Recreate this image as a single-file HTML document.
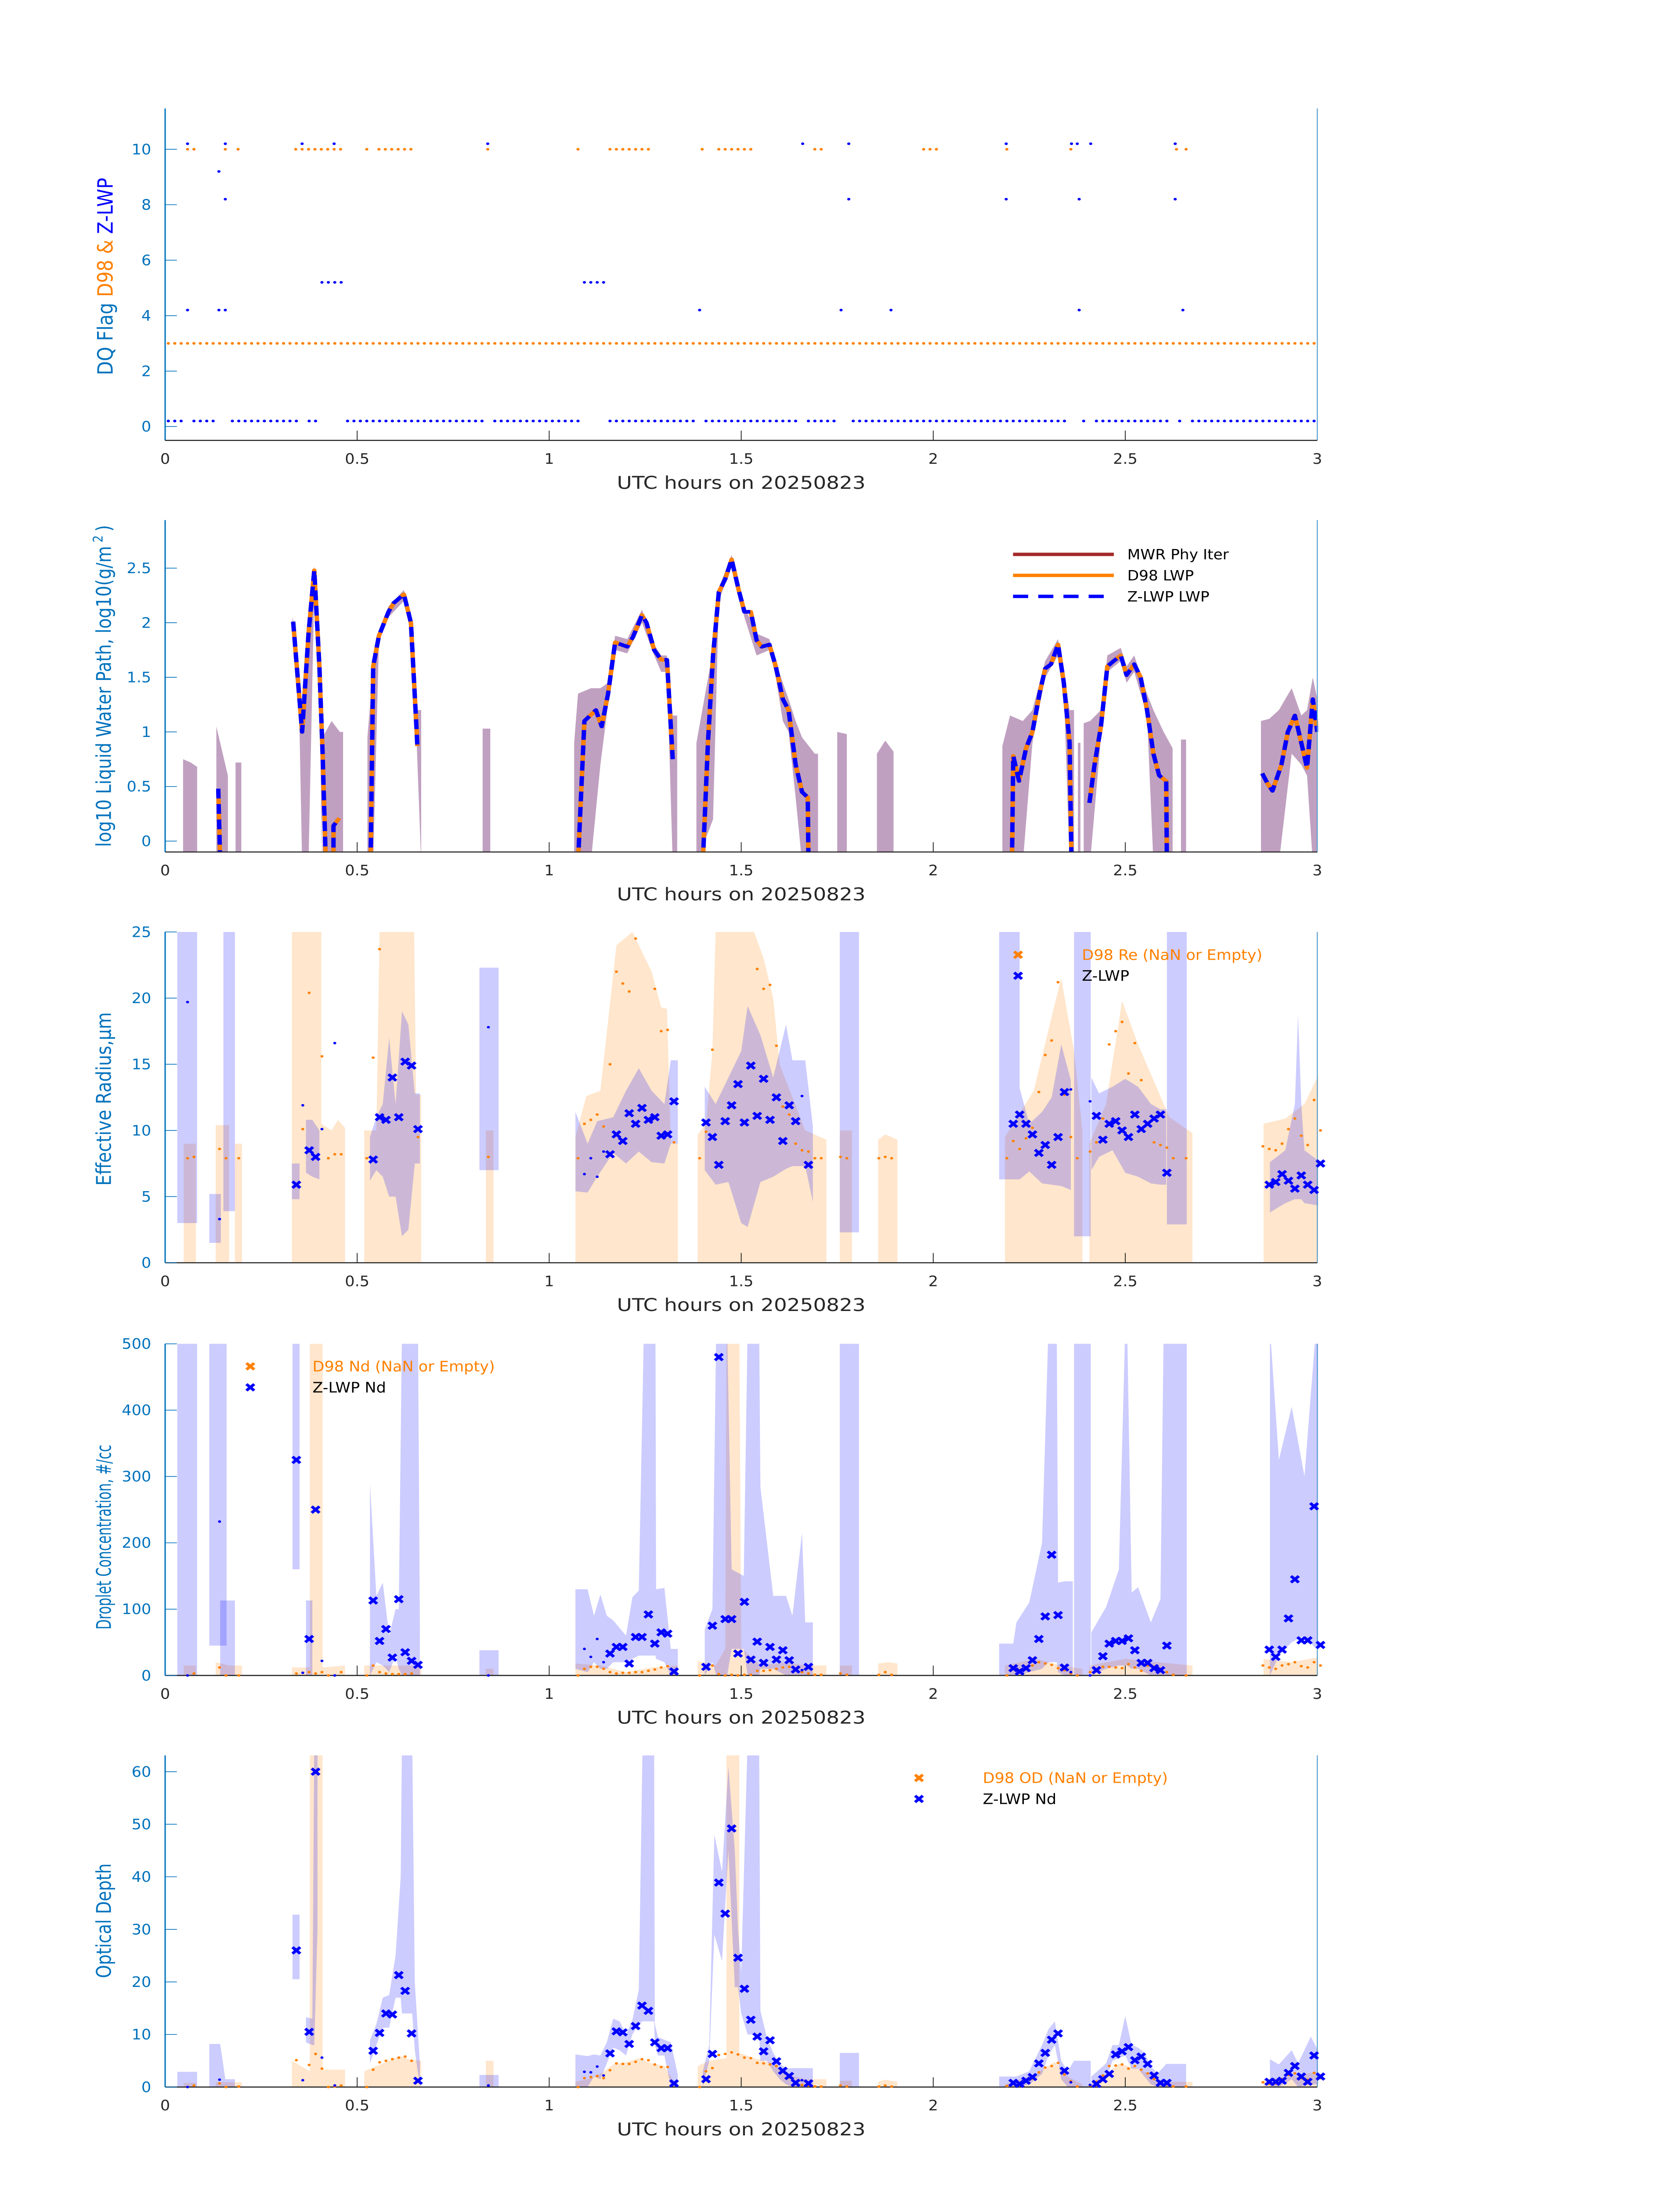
<!DOCTYPE html>
<html><head><meta charset="utf-8"><title>DQ / LWP / Re / Nd / OD</title>
<style>
html,body{margin:0;padding:0;background:#fff;width:100vw;height:100vh;overflow:hidden}
svg{display:block;position:fixed;left:0;top:0;width:100vw;height:100vh}
</style></head>
<body>
<svg id="fig" xmlns="http://www.w3.org/2000/svg" viewBox="0 0 1000 1568.63" preserveAspectRatio="none">
<rect x="0" y="0" width="1000" height="1568.63" fill="#ffffff"/>
<defs id="defs"></defs>
</svg>
<script>
// ---------- Panel 1: DQ flags (time in minutes after 00 UTC) ----------
const d98FlagT=[3.5,4.5,9.4,11.4,20.4,21.4,22.4,23.4,24.4,25.4,26.4,27.4,31.5,33.4,34.4,35.4,36.4,37.4,38.4,50.4,64.5,69.5,70.5,71.5,72.5,73.5,74.5,75.5,83.9,86.5,87.5,88.5,89.5,90.5,91.5,101.5,102.5,118.5,119.5,120.5,131.5,141.5,158,159.5];
const d98FlagV=[10,10,10,10,10,10,10,10,10,10,10,10,10,10,10,10,10,10,10,10,10,10,10,10,10,10,10,10,10,10,10,10,10,10,10,10,10,10,10,10,10,10,10,10];
const d98FlagRuns=[[0.5,179.5,3]];
const zFlagT=[3.5,9.4,21.4,26.4,50.4,99.6,106.8,131.4,141.6,142.5,144.6,157.8, 8.4, 9.4,106.8,131.4,142.8,157.8, 24.5,25.5,26.5,27.5,65.5,66.5,67.5,68.5, 3.5,8.4,9.4,83.5,105.6,113.4,142.8,159];
const zFlagV=[10.2,10.2,10.2,10.2,10.2,10.2,10.2,10.2,10.2,10.2,10.2,10.2, 9.2, 8.2,8.2,8.2,8.2,8.2, 5.2,5.2,5.2,5.2,5.2,5.2,5.2,5.2, 4.2,4.2,4.2,4.2,4.2,4.2,4.2,4.2];
const zFlagRuns=[[0.5,2.5,0.2],[4.5,7.5,0.2],[10.5,20.5,0.2],[22.5,23.5,0.2],[28.5,49.5,0.2],[51.5,64.5,0.2],[69.5,82.5,0.2],[84.5,98.5,0.2],[100.5,104.5,0.2],[107.5,113.5,0.2],[114.5,131.5,0.2],[132.5,140.5,0.2],[143.5,143.5,0.2],[145.5,156.5,0.2],[158.5,158.5,0.2],[160.5,179.5,0.2]];

// ---------- Panel 2: LWP (log10) ----------
const lwpSegT=[[8.3,8.6],[20.0,21.4,22.4,23.3,24.1,24.6,25.1],[26.3,26.3,27.2],[32.1,32.5,33.4,34.9,35.7,37.3,38.4,39.3,39.4],
 [64.5,65.5,67.3,68.2,69.2,70.3,72.2,73.1,74.5,75.2,76.4,77.5,78.4,79.3],
 [84.0,84.8,85.6,86.5,87.5,88.5,89.6,90.5,91.5,92.4,93.2,94.4,95.4,96.5,97.4,98.5,99.5,100.4,100.5],
 [132.3,132.5,133.4,134.5,135.5,136.6,137.5,138.4,139.5,140.4,141.3,141.6],
 [144.4,145.2,146.2,147.2,148.2,149.3,150.2,151.4,152.4,153.4,154.4,155.3,156.4,156.5],
 [171.4,172.3,173.0,174.4,175.4,176.5,177.5,178.4,179.3,180]];
const lwpSegV=[[0.48,-0.2],[2.01,1.0,1.9,2.48,1.6,0.8,-0.2],[-0.2,0.14,0.21],[-0.2,1.6,1.88,2.1,2.18,2.26,2.0,1.0,0.87],
 [-0.2,1.1,1.2,1.05,1.35,1.82,1.78,1.87,2.07,2.0,1.75,1.66,1.66,0.75],
 [-0.2,0.9,1.7,2.28,2.4,2.58,2.3,2.1,2.1,1.84,1.78,1.8,1.6,1.3,1.2,0.7,0.45,0.4,-0.2],
 [-0.2,0.78,0.55,0.85,1.0,1.35,1.58,1.62,1.8,1.45,0.9,-0.2],
 [0.35,0.7,1.05,1.6,1.65,1.7,1.52,1.62,1.5,1.2,0.8,0.6,0.55,-0.2],
 [0.62,0.52,0.46,0.7,1.0,1.15,0.9,0.67,1.3,1.0]];
const lwpBands=[
 [[2.8,-0.2,0.75],[4,-0.2,0.72],[5,-0.2,0.68]],
 [[8,-0.2,1.05],[9,-0.2,0.8],[9.8,-0.2,0.6]],
 [[11,-0.2,0.72],[11.9,-0.2,0.72]],
 [[19.9,1.95,2.05],[20.5,1.5,1.9],[21,1.0,1.35],[21.4,-0.2,1.05],[22.4,-0.2,1.95],[23.3,2.3,2.52],[24.1,1.5,1.7],[24.5,-0.2,1.0]],
 [[24.6,-0.2,0.95],[26,-0.2,1.1],[27.3,-0.2,1.0],[27.8,-0.2,1.0]],
 [[31.6,-0.2,0.95],[32.5,-0.2,1.6],[33.4,1.83,1.92],[34.9,2.05,2.15],[37.3,2.2,2.3],[38.4,1.9,2.05],[39.3,0.9,1.2],[40,-0.2,1.2]],
 [[49.6,-0.2,1.03],[50.8,-0.2,1.03]],
 [[63.9,-0.2,0.9],[64.5,-0.2,1.35],[66.5,-0.2,1.4],[68,0.7,1.4],[69.2,1.25,1.45],[70.3,1.75,1.88],[72.2,1.72,1.85],[74.5,2.0,2.12],[76.4,1.7,1.8],[77.5,1.55,1.7],[78.4,1.55,1.7],[79.3,-0.2,1.15],[80,-0.2,1.15]],
 [[83,-0.2,0.9],[85.6,0.2,1.75],[86.5,2.2,2.32],[88.5,2.52,2.62],[90.5,2.05,2.15],[92.4,1.7,1.9],[94.4,1.75,1.85],[95.4,1.5,1.65],[96.5,1.1,1.45],[97.4,1.0,1.3],[98.5,0.4,1.1],[99.5,-0.2,0.95],[101.5,-0.2,0.8],[102,-0.2,0.8]],
 [[105,-0.2,1.0],[106.5,-0.2,0.98]],
 [[111.2,-0.2,0.8],[112.5,-0.2,0.92],[113.8,-0.2,0.82]],
 [[130.8,-0.2,0.87],[132,-0.2,1.15],[134,-0.2,1.1],[135.5,0.9,1.2],[137.5,1.5,1.65],[139.5,1.7,1.85],[140.4,1.4,1.55],[141.3,-0.2,1.2],[142,-0.2,1.2]],
 [[142.6,-0.2,0.9],[143,-0.2,0.9]],
 [[143.5,-0.2,1.08],[144.5,-0.2,1.1],[146.2,0.95,1.2],[147.2,1.55,1.7],[149.3,1.65,1.77],[150.2,1.45,1.6],[151.4,1.55,1.7],[153.4,1.15,1.35],[154.4,-0.2,1.2],[156,-0.2,1.0],[157.4,-0.2,0.85]],
 [[158.7,-0.2,0.93],[159.5,-0.2,0.93]],
 [[171.2,-0.2,1.1],[172.5,-0.2,1.12],[174,-0.2,1.2],[176,0.8,1.4],[177.5,0.7,1.15],[178.4,0.6,1.2],[179.3,-0.2,1.5],[180,-0.2,1.3]]];

// ---------- Z-LWP retrievals (shared times) ----------
const zT=[20.5,22.5,23.5,32.5,33.5,34.5,35.5,36.5,37.5,38.5,39.5,69.5,70.5,71.5,72.5,73.5,74.5,75.5,76.5,77.5,78.5,79.5,84.5,85.5,86.5,87.5,88.5,89.5,90.5,91.5,92.5,93.5,94.5,95.5,96.5,97.5,98.5,100.5,132.5,133.5,134.5,135.5,136.5,137.5,138.5,139.5,140.5,145.5,146.5,147.5,148.5,149.5,150.5,151.5,152.5,153.5,154.5,155.5,156.5,172.5,173.5,174.5,175.5,176.5,177.5,178.5,179.5,180.5];
const zRe=[5.9,8.5,8.0,7.8,11,10.8,14,11,15.2,14.9,10.1,8.2,9.7,9.2,11.3,10.5,11.7,10.8,11,9.6,9.7,12.2,10.6,9.5,7.4,10.7,11.9,13.5,10.6,14.9,11.1,13.9,10.8,12.5,9.2,11.9,10.7,7.4,10.5,11.2,10.5,9.7,8.3,8.9,7.4,9.5,12.9,11.1,9.3,10.5,10.7,10.0,9.5,11.2,10.1,10.5,10.9,11.2,6.8,5.9,6.1,6.7,6.2,5.6,6.6,5.9,5.5,7.5];
const zNd=[325,55,250,113,52,70,27,115,35,22,16,33,43,43,18,58,58,92,48,65,63,6,13,75,480,85,85,33,111,24,51,19,43,24,38,23,9,13,11,6,11,23,55,89,182,91,12,8,29,48,52,52,56,38,19,19,11,8,45,39,28,39,86,145,53,53,255,46];
const zOD=[26,10.5,60,6.9,10.3,14,13.8,21.3,18.3,10.2,1.2,6.4,10.6,10.4,8.2,11.6,15.5,14.5,8.5,7.4,7.4,0.7,1.5,6.3,38.9,33,49.2,24.6,18.7,12.8,9.6,6.8,8.9,4.9,3.1,2.1,0.8,0.7,0.8,0.6,1.2,1.9,4.5,6.5,9.0,10.2,3.1,0.6,1.5,2.5,6.2,6.8,7.6,5.1,5.8,4.4,2.2,0.8,0.8,1.0,1.0,1.2,2.7,4.0,2.0,1.0,6.0,2.0];
const zDotT=[3.5,8.5,21.5,24.5,26.5,50.5,65.5,66.5,67.5,68.5,99.5,141.5,144.5];
const zDotRe=[19.7,3.3,11.9,10.1,16.6,17.8,6.7,7.9,6.5,8.4,12.6,13.1,12.2];
const zDotNd=[0,232,4,22,0,0,40,28,55,20,8,5,0];
const zDotOD=[0,1.4,1.3,5.6,0.3,0.3,2.9,2.8,3.9,2.2,1.3,0.9,0.4];

// ---------- D98 retrievals ----------
const d98ReT=[3.5,4.5,8.5,9.5,11.5,21.5,22.5,24.5,25.5,26.5,27.5,31.5,32.5,33.5,39.5,50.5,64.5,65.5,66.5,67.5,68.5,69.5,70.5,71.5,72.5,73.5,76.5,77.5,78.5,79.5,83.5,84.5,85.5,92.5,93.5,94.5,95.5,96.5,97.5,98.5,99.5,100.5,101.5,102.5,105.5,106.5,111.5,112.5,113.5,131.5,132.5,133.5,134.5,135.5,136.5,137.5,138.5,139.5,140.5,141.5,142.5,144.5,145.5,146.5,147.5,148.5,149.5,150.5,151.5,152.5,153.5,154.5,155.5,156.5,157.5,159.5,171.5,172.5,173.5,174.5,175.5,176.5,177.5,178.5,179.5,180.5];
const d98ReV=[7.9,8.0,8.6,7.9,7.9,10.1,20.4,15.6,7.9,8.2,8.2,7.9,15.5,23.7,9.5,8.0,7.9,10.5,10.8,11.2,10.3,15.0,22,21.1,20.5,24.5,20.7,17.5,17.6,9.1,7.9,9.9,16.1,22.2,20.7,21,16.4,11.8,11.2,9,8.5,8.4,7.9,7.9,8.0,7.9,7.9,8.0,7.9,7.9,9.2,8.6,9.4,10.2,12.9,15.7,16.8,21.2,12.7,9.5,7.9,8.4,9.1,10.9,16.5,17.5,18.2,14.3,16.6,13.8,10.5,9.1,8.9,8.7,7.9,7.9,8.8,8.6,8.5,9,10.1,10.9,9.6,8.9,12.3,10];
const d98T=[3.5,4.5,8.5,9.5,11.5,20.5,22.5,23.5,24.5,25.5,26.5,27.5,31.5,32.5,33.5,34.5,35.5,36.5,37.5,38.5,64.5,65.5,66.5,67.5,68.5,69.5,70.5,71.5,72.5,73.5,74.5,75.5,76.5,77.5,78.5,83.5,84.5,85.5,86.5,87.5,88.5,89.5,90.5,91.5,92.5,93.5,94.5,95.5,96.5,97.5,98.5,99.5,100.5,101.5,102.5,105.5,106.5,111.5,112.5,113.5,131.5,132.5,133.5,134.5,135.5,136.5,137.5,138.5,139.5,140.5,141.5,142.5,144.5,145.5,146.5,147.5,148.5,149.5,150.5,151.5,152.5,153.5,154.5,155.5,156.5,157.5,159.5,171.5,172.5,173.5,174.5,175.5,176.5,177.5,178.5,179.5,180.5];
const d98Nd=[0,3,12,0,0,3,5,3,5,0,0,5,0,15,5,3,2,2,2,3,0,10,13,13,10,5,3,4,4,5,5,7,9,12,14,0,14,15,2,0,1,0,1,1,7,7,8,10,12,13,10,5,3,1,1,3,1,1,5,1,0,10,8,12,15,20,18,16,11,8,3,0,5,8,13,13,12,11,17,12,7,15,13,10,5,1,0,15,12,10,15,17,20,14,12,20,15];
const d98OD=[0,0.3,0.7,0,0.1,5.1,4.2,6.3,3.5,0,0.1,0.3,0,3.3,4.7,5.0,5.3,5.6,5.8,5.0,0,1.7,1.9,2.1,1.7,3.2,4.5,4.4,4.4,4.8,5.3,5.1,4.3,3.8,3.8,0,3.0,3.6,6.1,6.3,6.6,6.2,5.6,5.5,4.6,4.5,4.3,4.0,3.0,1.8,1.0,0.4,0.3,0.1,0.1,0.3,0.1,0.1,0.3,0.1,0.2,0.6,0.8,1.3,1.6,2.8,3.7,4.0,4.6,2.4,1.1,0.1,0.3,1.0,2.2,4.0,4.1,4.3,3.5,4.0,3.3,2.6,1.5,1.0,0.5,0.1,0.1,0.9,0.6,0.7,1.5,2.3,2.6,1.7,1.4,2.7,1.7];

// ---------- Uncertainty bands [minute, lo, hi] ----------
const reOrangeBands=[
 [[2.9,0,9],[4.8,0,9]],[[7.9,0,10.4],[10,0,10.4]],[[10.9,0,9],[12,0,9]],
 [[19.8,0,25],[24.4,0,25],[24.4,0,10.5],[26,0,10],[27,0,10.8],[28.1,0,10.2]],
 [[31.1,0,10],[33,0,10],[33.5,0,25],[38.9,0,25],[39.2,0,12.7],[40,0,12.7]],
 [[50.1,0,10],[51.3,0,10]],
 [[64.1,0,9.5],[65.8,0,12.6],[68,0,13],[70.5,0,24],[73,0,25],[76,0,22],[77.5,0,19.3],[78.4,0,19.2],[79,0,9],[80.1,0,9]],
 [[83.2,0,9.7],[84.5,0,10.5],[85.5,0,16],[86,0,25],[92,0,25],[93.5,0,23],[95,0,20],[96,0,15],[100,0,10],[103.3,0,9.3]],
 [[105.4,0,10],[107.3,0,10]],[[111.4,0,9.3],[112.5,0,9.7],[114.4,0,9.3]],
 [[131.2,0,9.5],[135.7,0,13],[138.7,0,19],[140,0,21.5],[142,0,16],[143.3,0,10]],
 [[144.4,0,9],[147,0,12],[149.5,0,19.8],[152,0,16.5],[156.9,0,11],[160.5,0,9.8]],
 [[171.6,0,10.5],[175,0,10.9],[178,0,12],[180.5,0,14.5]]];
const reBlueBands=[
 [[1.9,3,25],[5,3,25]],[[6.9,1.5,5.2],[8.7,1.5,5.2]],[[9.1,3.9,25],[10.9,3.9,25]],[[19.8,4.8,7.5],[21,4.8,7.5]],
 [[22,6.8,10.8],[23,6.5,10.8],[24.1,6.3,10]],
 [[32,6.2,9.5],[33,7,11],[34,6.5,12],[35,5,17],[36,5,12],[37,2,19],[38,2.5,18],[39,7.5,12.8],[39.8,7.5,12.8]],
 [[49.1,7,22.3],[52.1,7,22.3]],
 [[64.1,5.4,11.4],[66,5.3,9],[67.5,6.5,10.7],[70,8.3,11],[72,7.5,13],[74,8.4,14.7],[76,7.6,13],[78,7.5,12],[79,9,15.3],[80.1,9,15.3]],
 [[84.3,7,13.3],[86,5.9,12],[88,6.1,14],[90,3,16],[91,2.7,19.4],[93,6.1,17.2],[95,6.5,14],[97,7.1,18],[98,7.3,15.3],[100,7.3,15.3],[101.2,4.6,10.3]],
 [[105.4,2.3,25],[108.4,2.3,25]],
 [[130.3,6.3,25],[133.5,6.3,25],[133.5,6.3,13.2],[135,6.9,10.5],[137,6,11.4],[138.5,5.9,12.5],[140,5.8,16.5],[141.5,5.5,13.8]],
 [[142,2,25],[144.6,2,25]],
 [[144.7,7,14],[145.9,8,12.8],[148,8.5,13.3],[150,6.8,13.9],[152,6.5,13.3],[154,6,12],[155.5,5.9,11.6],[156.4,5.9,11.6]],
 [[156.5,2.9,25],[159.6,2.9,25]],
 [[172.6,3.8,7.6],[175,4.5,8.5],[176.5,4.8,12],[177,4.8,18.8],[177.5,4.8,12],[178,4.5,8.5],[180.5,4.3,7.6]]];
const ndOrangeBands=[
 [[2.9,0,15],[4.8,0,15]],[[7.9,0,20],[10,0,15],[12,0,15]],[[19.8,0,12],[22.6,0,12]],[[22.6,0,999],[24.6,0,999]],
 [[24.6,0,12],[28.1,0,15]],[[31.1,0,15],[40,0,15]],[[50.1,0,10],[51.3,0,10]],
 [[64.1,0,18],[68,0,15],[72,0,5],[76,0,12],[80.1,0,15]],
 [[83.2,0,22],[86,0,15],[87.5,0,40],[87.7,0,999],[89.7,0,999],[90,0,42],[93,0,15],[97,0,20],[100,0,15],[103.3,0,15]],
 [[105.4,0,15],[107.3,0,15]],[[111.4,0,18],[113,0,20],[114.4,0,18]],
 [[131.2,0,15],[136,0,25],[140,0,15],[143.3,0,10]],[[144.4,0,15],[150,0,25],[155,0,20],[160.5,0,15]],
 [[171.6,0,25],[176,0,20],[180.5,0,28]]];
const ndBlueBands=[
 [[1.9,0,999],[5,0,999]],[[6.9,45,999],[9.6,45,999]],[[8.6,0,113],[10.9,0,113]],[[19.9,160,999],[21,160,999]],
 [[22,0,113],[23,0,113]],
 [[32,0,290],[33,20,120],[34,15,140],[35,5,60],[36,30,100],[36.5,10,100],[37,0,999],[39.5,0,999],[39.8,0,70]],
 [[49.1,0,38],[52.1,0,38]],
 [[64.1,10,130],[66,5,130],[67,20,90],[68,10,122],[69,10,90],[70,20,83],[72,20,60],[73,25,118],[74,30,128],[74.8,30,999],[76.6,30,999],[76.7,25,130],[78,20,132],[79,0,40],[80.1,0,40]],
 [[84.3,0,70],[85.5,20,100],[86.1,0,999],[87.8,0,999],[88.5,40,160],[90.4,40,150],[91,0,999],[92.8,0,999],[93,10,284],[95,10,120],[97,0,120],[98,0,90],[99.5,0,215],[100,0,80],[101.2,0,80]],
 [[105.4,0,999],[108.4,0,999]],
 [[130.3,0,48],[132.5,0,48],[133,0,80],[135,5,110],[137,10,200],[138,20,999],[139.3,20,999],[139.5,5,140],[140.5,0,142],[141.8,0,142]],
 [[142,0,999],[144.6,0,999]],
 [[144.7,0,65],[147,10,103],[149,15,160],[150,15,999],[150.3,15,999],[151,10,125],[152,10,133],[154,0,80],[155.5,0,115],[156,0,999],[159.6,0,999]],
 [[172.6,0,999],[174,30,325],[176,50,405],[178,60,300],[179.8,40,999],[180.5,40,999]]];
const odOrangeBands=[
 [[2.9,0,0.8],[4.8,0,0.8]],[[7.9,0,0.9],[12,0,0.9]],[[19.8,0,5],[22.6,0,3]],[[22.6,0,99],[24.6,0,99]],[[24.6,0,3.3],[28.1,0,3.3]],
 [[31.1,0,3],[34,0,4.5],[36,0,5.5],[37,0,5.9],[38,0,5.3],[40,0,5]],[[50.1,0,5],[51.3,0,5]],
 [[64.1,0,1],[66,0,1.5],[68,0,2.5],[70,0,4.3],[72,0,4.7],[74,0,5.5],[76,0,4.5],[78,0,4],[79.5,0,1],[80.1,0,1]],
 [[83.2,0,4],[85,0,5],[87.7,0,5.5],[87.7,0,99],[89.7,0,99],[89.7,0,6.5],[92,0,5.5],[95,0,4.5],[97,0,2.5],[100,0,1.5],[103.3,0,1.5]],
 [[105.4,0,1.2],[107.3,0,1.2]],[[111.4,0,1],[112.5,0,1.4],[114.4,0,1]],
 [[131.2,0,0.5],[136,0,2.5],[139,0,4.8],[141,0,2],[143.3,0,0.5]],[[144.4,0,0.5],[147,0,2.5],[149,0,4.4],[152,0,3.5],[156,0,1],[160.5,0,1]],
 [[171.6,0,1.5],[176,0,2],[180.5,0,3]]];
const odBlueBands=[
 [[1.9,0,2.9],[5,0,2.9]],[[6.9,0,8.2],[8.6,0,8.2],[9.4,0,1.5],[10.9,0,1.5]],[[19.9,20.5,32.8],[21,20.5,32.8]],
 [[22,8.5,13.3],[23,8,13],[23.3,8,99],[23.8,30,99]],
 [[32,4.5,8.9],[33,8,12],[34,11.3,17],[35,11.3,17.5],[36,17,25],[36.8,17,40],[37,14,99],[38.6,14,99],[39,7,20],[39.8,0,4.5]],
 [[49.1,0,2.3],[52.1,0,2.3]],
 [[64.1,0,6.2],[66,0,5.9],[67,2,6.2],[68,1.5,6],[69,4.5,8.5],[70,7.5,13],[71,7,12.5],[72,6,10],[73,10,12.8],[74,12,18.5],[74.6,12.5,99],[76.4,12.5,99],[76.5,8,12],[77,6,9.5],[78,6,9],[79,0,8.5],[80.1,0,2.3]],
 [[84,0,3],[85,5,8],[85.8,29,48],[87,24,41],[88,45,61],[89,19,45],[89.5,19,30],[90,14,22],[91,10,99],[92.8,10,99],[93,5,14.5],[94,5,9.5],[95,3,6.5],[96,1.5,4.5],[97,0.5,3.5],[98,0,3.6],[101.2,0,3.6]],
 [[105.4,0,6.5],[108.4,0,6.5]],
 [[130.3,0,2],[133,0,2],[135,0.5,3],[137,2.5,8],[138,6,11],[139,8,12.5],[140,1.5,5],[141,0,3],[142,0,5],[144.6,0,5]],
 [[144.7,0,2],[147,1.5,4.5],[148,5,8],[149,5.5,8],[150,6,13.5],[151,3.5,8],[152,3.5,7.5],[153,2,6.5],[154,0.5,4],[155,0,2.5],[156.4,0,4.4],[159.5,0,4.4]],
 [[172.6,0,5.3],[174,0,4.3],[176,1.5,7],[177,0,4.5],[179,0.5,9.6],[180.5,0.5,6]]];

const xTickVals=[0,0.5,1,1.5,2,2.5,3];
const xTickLabels=['0','0.5','1','1.5','2','2.5','3'];

// ---------- rendering ----------
const NS='http://www.w3.org/2000/svg';
const svg=document.getElementById('fig');
const defs=document.getElementById('defs');
const X0=98.3,X1=784.1,TMAX=180;
function X(m){return X0+(m/TMAX)*(X1-X0);}
const panels=[
 {id:'dq',top:77.5,bot:314.6,ymin:-0.5,ymax:11.47,ticks:[0,2,4,6,8,10],labels:['0','2','4','6','8','10'],yc:197.5,yl:141},
 {id:'lwp',top:371.5,bot:608.6,ymin:-0.1,ymax:2.94,ticks:[0,0.5,1,1.5,2,2.5],labels:['0','0.5','1','1.5','2','2.5'],yc:490,yl:230},
 {id:'re',top:665.7,bot:902,ymin:0,ymax:25,ticks:[0,5,10,15,20,25],labels:['0','5','10','15','20','25'],yc:785,yl:124},
 {id:'nd',top:959.9,bot:1196.8,ymin:0,ymax:500,ticks:[0,100,200,300,400,500],labels:['0','100','200','300','400','500'],yc:1098,yl:132},
 {id:'od',top:1253.9,bot:1490.8,ymin:0,ymax:63.1,ticks:[0,10,20,30,40,50,60],labels:['0','10','20','30','40','50','60'],yc:1372,yl:82}];
function Y(p,v){return p.bot-(v-p.ymin)/(p.ymax-p.ymin)*(p.bot-p.top);}
function mk(tag,attrs,parent,name){
 const el=document.createElementNS(NS,tag);
 for(const k in attrs)el.setAttribute(k,attrs[k]);
 
 
 parent.appendChild(el);return el;}
const TF='"DejaVu Sans Condensed","DejaVu Sans","Liberation Sans",sans-serif';

panels.forEach(p=>{
 const cp=document.createElementNS(NS,'clipPath');cp.setAttribute('id','clip-'+p.id);
 const r=document.createElementNS(NS,'rect');
 r.setAttribute('x',X0);r.setAttribute('y',p.top);r.setAttribute('width',X1-X0+0.5);r.setAttribute('height',p.bot-p.top);
 cp.appendChild(r);defs.appendChild(cp);
 p.g=mk('g',{},svg,'panel-'+p.id);
 p.plot=mk('g',{'clip-path':'url(#clip-'+p.id+')'},p.g,'plot-area-'+p.id);
});

function band(p,arr,fill,op,name){
 let d='';
 const lo=p.ymin-(p.ymax-p.ymin)*0.05, hi=p.ymax+(p.ymax-p.ymin)*0.05;
 arr.forEach((q,i)=>{d+=(i?'L':'M')+X(q[0]).toFixed(2)+','+Y(p,Math.min(q[2],hi)).toFixed(2);});
 for(let i=arr.length-1;i>=0;i--){const q=arr[i];d+='L'+X(q[0]).toFixed(2)+','+Y(p,Math.max(q[1],lo)).toFixed(2);}
 d+='Z';
 mk('path',{d:d,fill:fill,'fill-opacity':op,stroke:'none'},p.plot,name);
}
function dot(p,parent,t,v,r,c,name){mk('circle',{cx:X(t).toFixed(2),cy:Y(p,v).toFixed(2),r:r,fill:c},parent,name);}
function xmark(parent,cx,cy,c,name){
 const s=2.3;
 mk('path',{d:`M${cx-s},${cy-s}L${cx+s},${cy+s}M${cx-s},${cy+s}L${cx+s},${cy-s}`,stroke:c,'stroke-width':1.9,fill:'none'},parent,name);
}

// axes
panels.forEach(p=>{
 const ax=mk('g',{},p.g,'axes-'+p.id);
 mk('line',{x1:X0,y1:p.top,x2:X0,y2:p.bot,stroke:'#0072bd','stroke-width':0.8},ax,'y-axis-line');
 mk('line',{x1:X1,y1:p.top,x2:X1,y2:p.bot,stroke:'#5a9fd0','stroke-width':0.6},ax,'right-axis-line');
 mk('line',{x1:X0,y1:p.bot,x2:X1,y2:p.bot,stroke:'#262626','stroke-width':0.8},ax,'x-axis-line');
 xTickVals.forEach((h,i)=>{
  const x=X(h*60);
  if(i>0&&i<xTickVals.length-1) mk('line',{x1:x,y1:p.bot,x2:x,y2:p.bot-7,stroke:'#262626','stroke-width':0.5},ax,'x-tick');
  const t=mk('text',{x:x,y:p.bot+16.7,'text-anchor':'middle','font-size':10.2,'font-family':TF,'font-stretch':'condensed',fill:'#262626'},ax,'x-tick-label');
  t.textContent=xTickLabels[i];
 });
 p.ticks.forEach((v,i)=>{
  const y=Y(p,v);
  mk('line',{x1:X0,y1:y,x2:X0+7,y2:y,stroke:'#0072bd','stroke-width':0.5},ax,'y-tick');
  const t=mk('text',{x:90,y:y+3.6,'text-anchor':'end','font-size':10.2,'font-family':TF,'font-stretch':'condensed',fill:'#0072bd'},ax,'y-tick-label');
  t.textContent=p.labels[i];
 });
 const xl=mk('text',{x:441.2,y:p.bot+34.5,'text-anchor':'middle','font-size':12.5,'font-family':TF,'font-stretch':'condensed',fill:'#262626',textLength:148,lengthAdjust:'spacingAndGlyphs'},ax,'x-axis-title');
 xl.textContent='UTC hours on 20250823';
});

// y-axis titles
(function(){
 const L='"DejaVu Sans","Liberation Sans",sans-serif';
 const p0=panels[0];
 const t0=mk('text',{transform:`translate(67,${p0.yc}) rotate(-90)`,'text-anchor':'middle','font-size':12.5,'font-family':L,textLength:p0.yl,lengthAdjust:'spacingAndGlyphs'},p0.g,'y-axis-title');
 const a=document.createElementNS(NS,'tspan');a.setAttribute('fill','#0072bd');a.textContent='DQ Flag  ';t0.appendChild(a);
 const b=document.createElementNS(NS,'tspan');b.setAttribute('fill','#ff8000');b.textContent='D98 &  ';t0.appendChild(b);
 const c=document.createElementNS(NS,'tspan');c.setAttribute('fill','#0000ff');c.textContent='Z-LWP';t0.appendChild(c);
 const titles=['','log10 Liquid Water Path, log10(g/m','Effective Radius,\u03bcm','Droplet Concentration, #/cc','Optical Depth'];
 for(let i=1;i<5;i++){
  const p=panels[i];
  const t=mk('text',{transform:`translate(66,${p.yc}) rotate(-90)`,'text-anchor':'middle','font-size':12,'font-family':L,fill:'#0072bd',textLength:p.yl,lengthAdjust:'spacingAndGlyphs'},p.g,'y-axis-title');
  t.textContent=titles[i];
  if(i===1){const s=document.createElementNS(NS,'tspan');s.setAttribute('font-size','8');s.setAttribute('dy','-5');s.textContent=' 2 ';t.appendChild(s);
   const e=document.createElementNS(NS,'tspan');e.setAttribute('dy','5');e.textContent=')';t.appendChild(e);}
 }
})();

// Panel 1
(function(){
 const p=panels[0];
 d98FlagRuns.forEach(r=>{for(let t=r[0];t<=r[1]+1e-6;t+=1){dot(p,p.plot,t,r[2],0.95,'#ff8000','d98-flag-point');}});
 d98FlagT.forEach((t,i)=>dot(p,p.plot,t,d98FlagV[i],0.95,'#ff8000','d98-flag-point'));
 zFlagRuns.forEach(r=>{for(let t=r[0];t<=r[1]+1e-6;t+=1){dot(p,p.plot,t,r[2],0.95,'#0000ff','zlwp-flag-point');}});
 zFlagT.forEach((t,i)=>dot(p,p.plot,t,zFlagV[i],0.95,'#0000ff','zlwp-flag-point'));
})();

// Panel 2
(function(){
 const p=panels[1];
 lwpBands.forEach(b=>band(p,b,'#c0a0c0',1,'lwp-uncertainty-band'));
 const paths=lwpSegT.map((ts,j)=>ts.map((t,i)=>(i?'L':'M')+X(t).toFixed(2)+','+Y(p,lwpSegV[j][i]).toFixed(2)).join(''));
 paths.forEach(d=>mk('path',{d:d,stroke:'#a52a2a','stroke-width':2.6,fill:'none','stroke-linejoin':'round'},p.plot,'mwr-lwp-line'));
 paths.forEach(d=>mk('path',{d:d,stroke:'#ff8000','stroke-width':2.6,fill:'none','stroke-linejoin':'round'},p.plot,'d98-lwp-line'));
 paths.forEach(d=>mk('path',{d:d,stroke:'#0000ff','stroke-width':2.6,fill:'none','stroke-dasharray':'7,4','stroke-linejoin':'round'},p.plot,'zlwp-lwp-line'));
 const lg=mk('g',{},p.g,'legend');
 const items=[['MWR Phy Iter','#a52a2a',''],['D98 LWP','#ff8000',''],['Z-LWP LWP','#0000ff','9,6']];
 items.forEach((it,i)=>{const y=396+15*i;
  const l=mk('line',{x1:603,y1:y,x2:663,y2:y,stroke:it[1],'stroke-width':2.4},lg,'legend-line');
  if(it[2])l.setAttribute('stroke-dasharray',it[2]);
  const t=mk('text',{x:671,y:y+3.6,'font-size':10,'font-family':TF,'font-stretch':'condensed',fill:'#000'},lg,'legend-entry');t.textContent=it[0];});
})();

function retrievalPanel(idx,oB,bB,dT,dV,zV,zDV,legendX,legendY,textX,oLabel,zLabel){
 const p=panels[idx];
 oB.forEach(b=>band(p,b,'#ffe6cc',1,'d98-uncertainty-band'));
 bB.forEach(b=>band(p,b,'#0000ff',0.2,'zlwp-uncertainty-band'));
 const mg=mk('g',{},p.g,'markers');
 dT.forEach((t,i)=>{if(dV[i]<=p.ymax)dot(p,mg,t,dV[i],0.9,'#ff8000','d98-point');});
 zDotT.forEach((t,i)=>{if(zDV[i]<=p.ymax)dot(p,mg,t,zDV[i],0.9,'#0000ff','zlwp-point');});
 zT.forEach((t,i)=>{if(zV[i]<=p.ymax)xmark(mg,X(t),Y(p,zV[i]),'#0000ff','zlwp-marker');});
 const lg=mk('g',{},p.g,'legend');
 xmark(lg,legendX,legendY,'#ff8000','legend-marker-d98');
 const t1=mk('text',{x:textX,y:legendY+3.6,'font-size':10.2,'font-family':TF,'font-stretch':'condensed',fill:'#ff8000'},lg,'legend-entry');t1.textContent=oLabel;
 xmark(lg,legendX,legendY+15,'#0000ff','legend-marker-zlwp');
 const t2=mk('text',{x:textX,y:legendY+18.6,'font-size':10.2,'font-family':TF,'font-stretch':'condensed',fill:'#000'},lg,'legend-entry');t2.textContent=zLabel;
}
retrievalPanel(2,reOrangeBands,reBlueBands,d98ReT,d98ReV,zRe,zDotRe,606,682,644,'D98 Re (NaN or Empty)','Z-LWP');
retrievalPanel(3,ndOrangeBands,ndBlueBands,d98T,d98Nd,zNd,zDotNd,149,976,186,'D98 Nd (NaN or Empty)','Z-LWP Nd');
retrievalPanel(4,odOrangeBands,odBlueBands,d98T,d98OD,zOD,zDotOD,547,1270,585,'D98 OD (NaN or Empty)','Z-LWP Nd');
</script>
</body></html>
